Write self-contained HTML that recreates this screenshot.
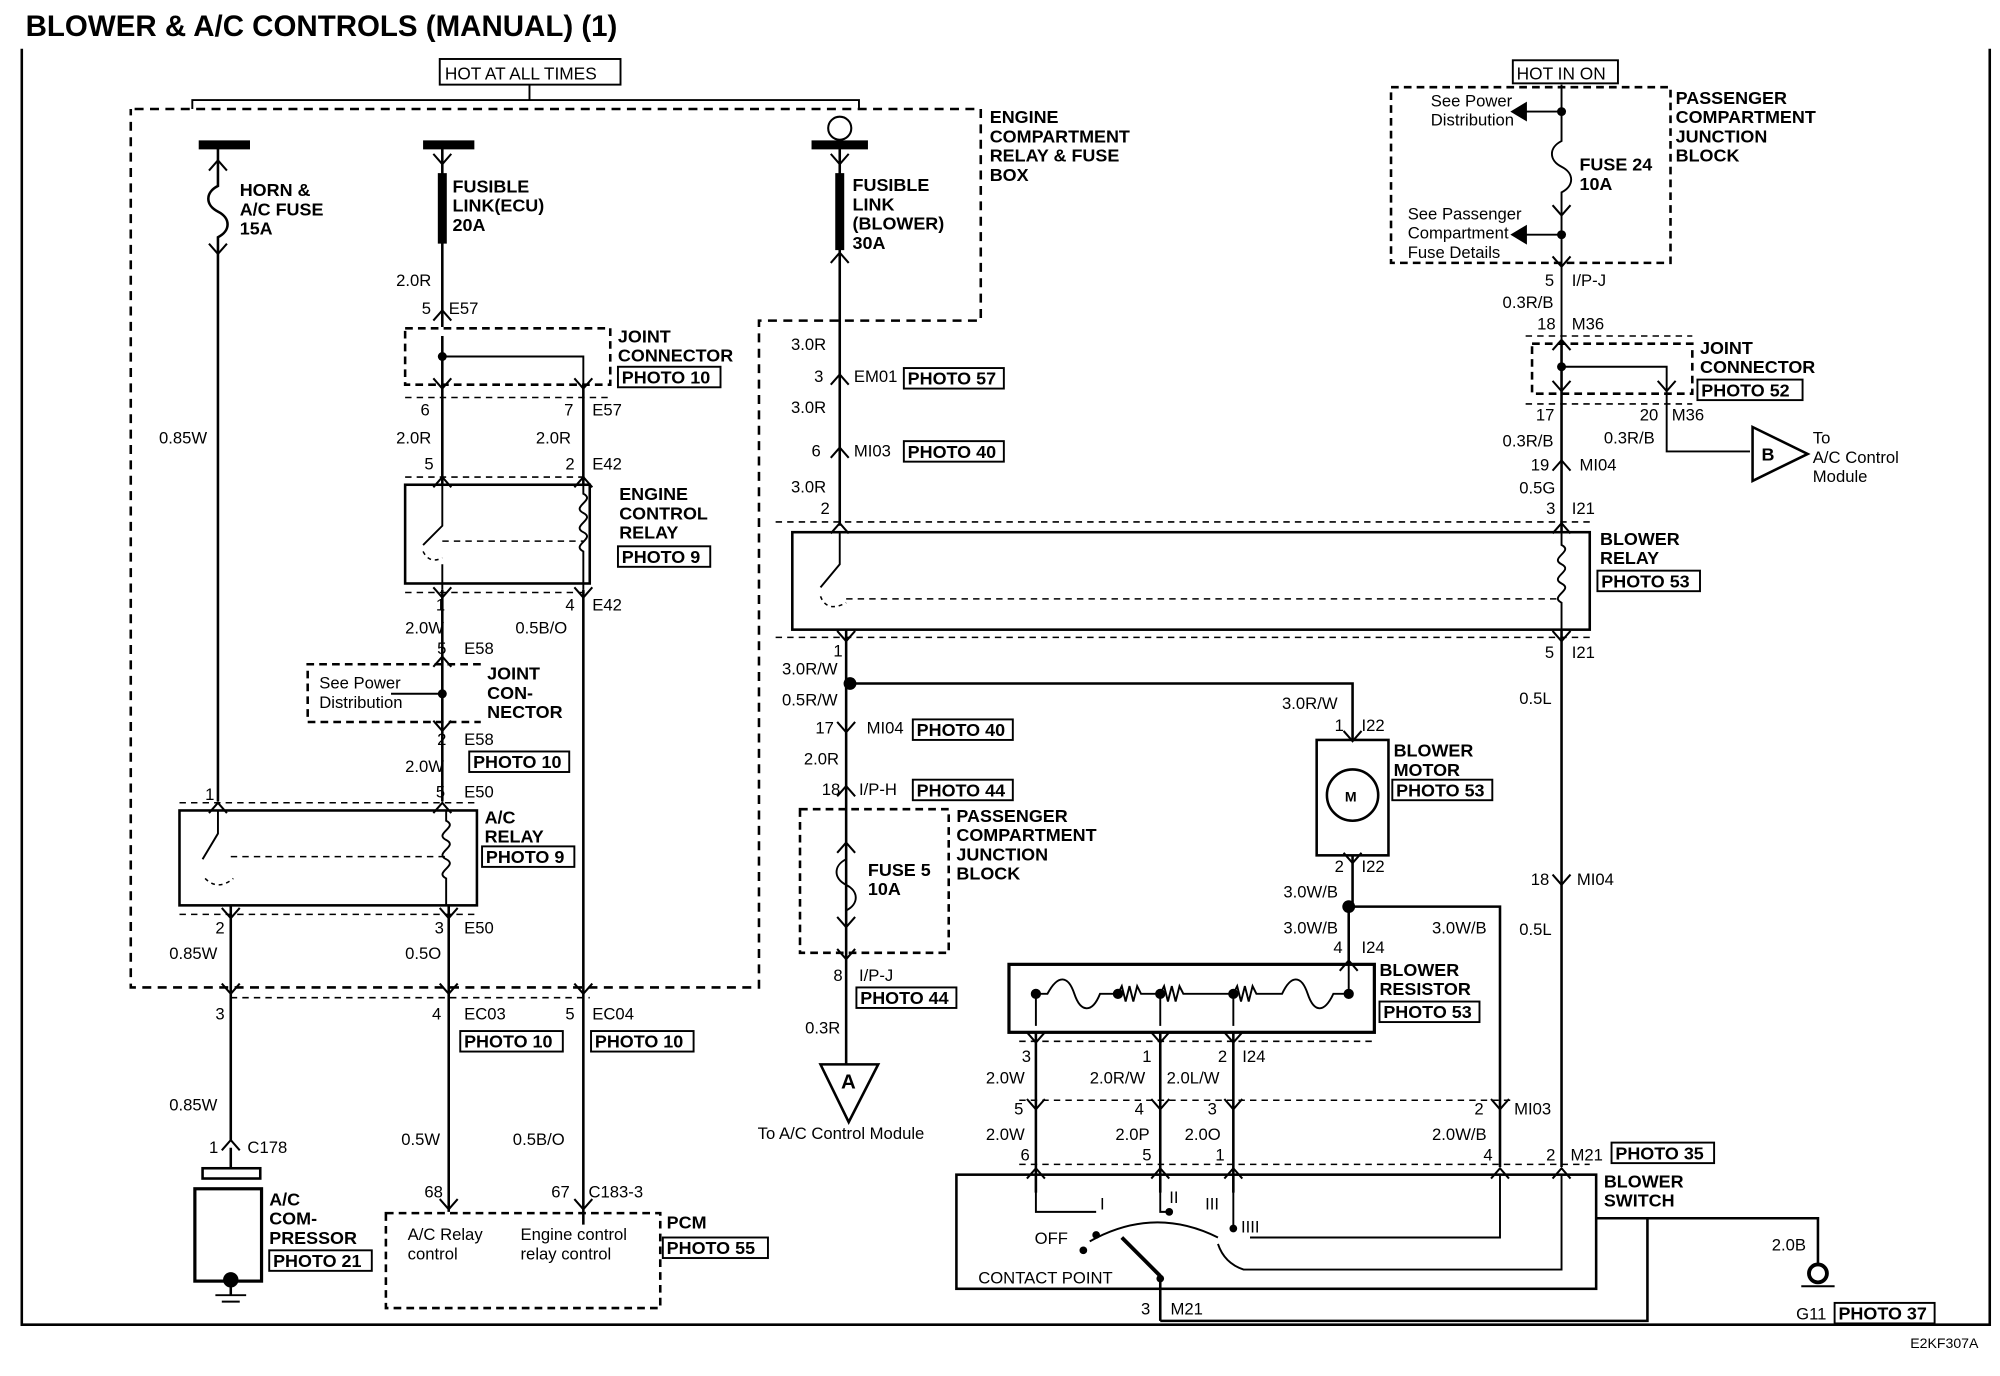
<!DOCTYPE html>
<html><head><meta charset="utf-8"><style>
html,body{margin:0;padding:0;background:#fff;}
svg{display:block;}
text{font-family:"Liberation Sans",Arial,sans-serif;fill:#000;}
.b{font-weight:bold;font-size:14px;}
.r{font-size:13px;}
.t{font-size:13.5px;}
</style></head><body>
<svg width="2000" height="1376" viewBox="0 0 1560 1073" preserveAspectRatio="none" xmlns="http://www.w3.org/2000/svg">
<defs>
<g id="dn"><polyline points="-7,-5 0,3 7,-5" fill="none" stroke="#000" stroke-width="1.6"/></g>
<g id="up"><polyline points="-7,5 0,-3 7,5" fill="none" stroke="#000" stroke-width="1.6"/></g>
</defs>
<g stroke="#000" fill="none" stroke-width="2">
<!-- outer frame -->
<polyline points="17,38 17,1033 1552,1033 1552,38"/>
<!-- hot bracket -->
<polyline points="150,85 150,78 670,78 670,85" stroke-width="1.5"/>
<line x1="413" y1="66" x2="413" y2="78" stroke-width="1.5"/>
<!-- engine compartment dashed -->
<polyline stroke-dasharray="7,5" points="105,85 765,85 765,250 592,250 592,770 102,770 102,85"/>
<!-- fuse bars -->
<line x1="155" y1="113" x2="195" y2="113" stroke-width="7"/>
<line x1="330" y1="113" x2="370" y2="113" stroke-width="7"/>
<line x1="633" y1="113" x2="677" y2="113" stroke-width="7"/>
<circle cx="655" cy="100" r="9" stroke-width="1.6"/>
<!-- left wire -->
<path d="M170,116 V145 C160,150 160,160 170,165 C180,170 180,180 170,185 V625"/>
<!-- ecu fusible link -->
<line x1="345" y1="116" x2="345" y2="255"/>
<line x1="345" y1="135" x2="345" y2="190" stroke-width="7"/>
<!-- blower fusible link -->
<line x1="655" y1="116" x2="655" y2="410"/>
<line x1="655" y1="135" x2="655" y2="195" stroke-width="7"/>
<!-- joint connector 1 -->
<rect x="316" y="256" width="160" height="44" stroke-dasharray="6,4"/>
<polyline points="345,262 345,300"/>
<polyline points="345,278 455,278 455,300" stroke-width="1.5"/>
<line x1="345" y1="300" x2="345" y2="378"/><line x1="455" y1="300" x2="455" y2="378"/>
<line x1="316" y1="310" x2="476" y2="310" stroke-dasharray="5,4" stroke-width="1.2"/>
<!-- engine control relay -->
<rect x="316" y="378" width="144" height="77"/>
<line x1="316" y1="372" x2="460" y2="372" stroke-dasharray="5,4" stroke-width="1.2"/>
<path d="M345,378 V410 L330,425 M345,440 V460" stroke-width="1.5"/>
<path d="M330,430 Q335,440 345,435" stroke-dasharray="3,3" stroke-width="1.2"/>
<path d="M455,378 V385 C465,390 445,395 455,400 C465,405 445,410 455,415 C465,420 445,425 455,430 V460" stroke-width="1.5"/>
<line x1="345" y1="422" x2="455" y2="422" stroke-dasharray="5,4" stroke-width="1.2"/>
<line x1="316" y1="462" x2="460" y2="462" stroke-dasharray="5,4" stroke-width="1.2"/>
<line x1="345" y1="460" x2="345" y2="625"/>
<line x1="455" y1="460" x2="455" y2="955"/>
<!-- joint connector 2 -->
<polyline stroke-dasharray="6,4" points="375,518 240,518 240,563 375,563"/>
<line x1="345" y1="541" x2="305" y2="541" stroke-width="1.5"/>
<!-- A/C relay -->
<rect x="140" y="632" width="232" height="74"/>
<line x1="140" y1="626" x2="372" y2="626" stroke-dasharray="5,4" stroke-width="1.2"/>
<line x1="140" y1="713" x2="372" y2="713" stroke-dasharray="5,4" stroke-width="1.2"/>
<path d="M170,632 V650 L158,670" stroke-width="1.5"/>
<path d="M160,685 Q170,695 182,685" stroke-dasharray="3,3" stroke-width="1.2"/>
<path d="M348,632 V640 C358,645 338,650 348,655 C358,660 338,665 348,670 C358,675 338,680 348,685 V706" stroke-width="1.5"/>
<line x1="180" y1="668" x2="348" y2="668" stroke-dasharray="5,4" stroke-width="1.2"/>
<line x1="180" y1="706" x2="180" y2="890"/>
<line x1="350" y1="706" x2="350" y2="945"/>
<line x1="180" y1="778" x2="460" y2="778" stroke-dasharray="5,4" stroke-width="1.2"/>
<!-- compressor -->
<rect x="158" y="911" width="45" height="8"/>
<rect x="152" y="927" width="52" height="72" stroke-width="2.5"/>
<line x1="180" y1="895" x2="180" y2="911"/>
<line x1="180" y1="999" x2="180" y2="1010"/>
<line x1="168" y1="1010" x2="192" y2="1010" stroke-width="1.5"/><line x1="173" y1="1015" x2="187" y2="1015" stroke-width="1.5"/>
<!-- PCM -->
<rect x="301" y="946" width="214" height="74" stroke-dasharray="6,4"/>
<!-- right center -->
<line x1="605" y1="407" x2="1240" y2="407" stroke-dasharray="5,4" stroke-width="1.2"/>
<rect x="618" y="415" width="622" height="76"/>
<line x1="605" y1="497" x2="1240" y2="497" stroke-dasharray="5,4" stroke-width="1.2"/>
<path d="M655,415 V440 L640,458" stroke-width="1.5"/>
<path d="M640,465 Q645,478 660,470" stroke-dasharray="3,3" stroke-width="1.2"/>
<line x1="660" y1="467" x2="1218" y2="467" stroke-dasharray="5,4" stroke-width="1.2"/>
<path d="M1218,415 V425 C1228,430 1208,435 1218,440 C1228,445 1208,450 1218,455 C1228,460 1208,465 1218,470 V491" stroke-width="1.5"/>
<line x1="660" y1="491" x2="660" y2="830"/>
<polyline points="663,533 1055,533 1055,577"/>
<rect x="1027" y="577" width="56" height="90" stroke-width="2"/>
<circle cx="1055" cy="620" r="20"/>
<line x1="1055" y1="667" x2="1055" y2="707"/>
<polyline points="1052,707 1170,707 1170,910"/>
<line x1="1052" y1="707" x2="1052" y2="752"/>
<line x1="1218" y1="491" x2="1218" y2="910"/>
<!-- fuse 5 box -->
<rect x="624" y="631" width="116" height="112" stroke-dasharray="6,4"/>
<path d="M660,660 V670 C650,675 650,685 660,690 C670,695 670,705 660,710 V740" stroke-width="1.5"/>
<polygon points="640,830 685,830 662,875" stroke-width="2"/>
<!-- resistor -->
<rect x="787" y="752" width="285" height="53" stroke-width="2.5"/>
<path d="M808,800 V775 H817 C825,760 833,760 838,775 C843,790 852,790 858,775 H872 l3,-6 3,12 3,-12 3,12 3,-12 3,6 H905 l3,-6 3,12 3,-12 3,12 3,-12 3,6 H962 l3,-6 3,12 3,-12 3,12 3,-12 3,6 H1000 C1007,760 1015,760 1020,775 C1025,790 1033,790 1040,775 H1052 V752" stroke-width="1.5"/>
<line x1="905" y1="775" x2="905" y2="800" stroke-width="1.5"/>
<line x1="962" y1="775" x2="962" y2="800" stroke-width="1.5"/>
<line x1="795" y1="812" x2="1070" y2="812" stroke-dasharray="5,4" stroke-width="1.2"/>
<line x1="808" y1="805" x2="808" y2="930"/><line x1="905" y1="805" x2="905" y2="930"/><line x1="962" y1="805" x2="962" y2="930"/>
<line x1="795" y1="858" x2="1180" y2="858" stroke-dasharray="5,4" stroke-width="1.2"/>
<line x1="795" y1="908" x2="1240" y2="908" stroke-dasharray="5,4" stroke-width="1.2"/>
<!-- switch -->
<rect x="746" y="916" width="499" height="89" stroke-width="2"/>
<path d="M808,916 V945 H855 M905,916 V945 H912 M962,916 V958 M1170,916 V965 H975 M1218,916 V990 H970 Q955,985 950,970 M850,968 Q900,940 950,965" stroke-width="1.5"/>
<line x1="875" y1="965" x2="905" y2="995" stroke-width="3"/>
<line x1="905" y1="995" x2="905" y2="1030"/>
<polyline points="905,1030 1285,1030 1285,950 1418,950 1418,985"/>
<line x1="1245" y1="950" x2="1285" y2="950"/>
<!-- ground g11 -->
<circle cx="1418" cy="993" r="7" stroke-width="3"/>
<line x1="1405" y1="1003" x2="1431" y2="1003" stroke-width="1.5"/>
<!-- right top -->
<rect x="1085" y="68" width="218" height="137" stroke-dasharray="6,4"/>
<path d="M1218,66 V110 C1208,115 1208,125 1218,130 C1228,135 1228,145 1218,150 V268" stroke-width="1.5"/>
<line x1="1190" y1="87" x2="1218" y2="87" stroke-width="1.5"/><polygon points="1190,81 1190,93 1180,87" fill="#000"/>
<line x1="1190" y1="183" x2="1218" y2="183" stroke-width="1.5"/><polygon points="1190,177 1190,189 1180,183" fill="#000"/>
<line x1="1190" y1="262" x2="1320" y2="262" stroke-dasharray="5,4" stroke-width="1.2"/>
<rect x="1195" y="268" width="125" height="39" stroke-dasharray="6,4"/>
<polyline points="1218,268 1218,415"/>
<polyline points="1218,286 1300,286 1300,352 1365,352" stroke-width="1.5"/>
<line x1="1190" y1="315" x2="1320" y2="315" stroke-dasharray="5,4" stroke-width="1.2"/>
<polygon points="1367,333 1367,375 1410,354"/>
</g>
<!-- dots -->
<g fill="#000">
<circle cx="345" cy="278" r="3.5"/><circle cx="345" cy="541" r="3.5"/><circle cx="663" cy="533" r="5"/><circle cx="1052" cy="707" r="5"/>
<circle cx="1218" cy="87" r="3.5"/><circle cx="1218" cy="183" r="3.5"/><circle cx="1218" cy="286" r="3.5"/>
<circle cx="808" cy="775" r="4"/><circle cx="872" cy="775" r="4"/><circle cx="905" cy="775" r="4"/><circle cx="962" cy="775" r="4"/><circle cx="1052" cy="775" r="4"/>
<circle cx="855" cy="963" r="3"/><circle cx="845" cy="975" r="3"/><circle cx="912" cy="945" r="3"/><circle cx="962" cy="958" r="3"/><circle cx="905" cy="997" r="3"/>
<circle cx="180" cy="998" r="6"/>
</g>
<!-- chevrons -->
<g>
<use href="#up" x="170" y="128"/><use href="#dn" x="170" y="195"/>
<use href="#dn" x="345" y="125"/><use href="#up" x="345" y="245"/><use href="#dn" x="345" y="300"/><use href="#dn" x="455" y="300"/>
<use href="#up" x="345" y="375"/><use href="#up" x="455" y="375"/><use href="#dn" x="345" y="463"/><use href="#dn" x="455" y="463"/>
<use href="#up" x="345" y="515"/><use href="#dn" x="345" y="567"/><use href="#up" x="170" y="629"/><use href="#up" x="345" y="629"/>
<use href="#dn" x="180" y="713"/><use href="#dn" x="350" y="713"/><use href="#dn" x="180" y="772"/><use href="#dn" x="350" y="772"/><use href="#dn" x="455" y="772"/>
<use href="#up" x="180" y="892"/><use href="#dn" x="350" y="940"/><use href="#dn" x="455" y="940"/>
<use href="#dn" x="655" y="125"/><use href="#up" x="655" y="200"/><use href="#up" x="655" y="295"/><use href="#up" x="655" y="352"/><use href="#up" x="655" y="411"/>
<use href="#dn" x="660" y="497"/><use href="#dn" x="660" y="568"/><use href="#up" x="660" y="616"/><use href="#up" x="660" y="660"/><use href="#dn" x="660" y="720"/><use href="#dn" x="660" y="745"/>
<use href="#dn" x="1055" y="575"/><use href="#dn" x="1055" y="670"/><use href="#up" x="1052" y="752"/>
<use href="#dn" x="808" y="810"/><use href="#dn" x="905" y="810"/><use href="#dn" x="962" y="810"/>
<use href="#dn" x="808" y="862"/><use href="#dn" x="905" y="862"/><use href="#dn" x="962" y="862"/><use href="#dn" x="1170" y="862"/>
<use href="#up" x="808" y="914"/><use href="#up" x="905" y="914"/><use href="#up" x="962" y="914"/><use href="#up" x="1170" y="914"/><use href="#up" x="1218" y="914"/>
<use href="#dn" x="1218" y="165"/><use href="#dn" x="1218" y="205"/><use href="#up" x="1218" y="268"/><use href="#dn" x="1218" y="302"/><use href="#dn" x="1300" y="302"/>
<use href="#up" x="1218" y="362"/><use href="#up" x="1218" y="411"/><use href="#dn" x="1218" y="497"/><use href="#dn" x="1218" y="687"/>
</g>
<!-- boxes around photo labels -->
<g fill="none" stroke="#000" stroke-width="1.5">
<rect x="343" y="46" width="141" height="20"/><rect x="1180" y="47" width="82" height="18"/>
<rect x="482" y="286" width="80" height="16"/><rect x="482" y="426" width="72" height="16"/><rect x="366" y="586" width="78" height="16"/>
<rect x="376" y="660" width="72" height="16"/><rect x="359" y="804" width="80" height="16"/><rect x="461" y="804" width="80" height="16"/>
<rect x="210" y="975" width="80" height="16"/><rect x="517" y="965" width="82" height="16"/>
<rect x="705" y="287" width="78" height="16"/><rect x="705" y="344" width="78" height="16"/><rect x="712" y="561" width="78" height="16"/>
<rect x="712" y="608" width="78" height="16"/><rect x="668" y="770" width="78" height="16"/><rect x="1086" y="608" width="78" height="16"/>
<rect x="1076" y="781" width="78" height="16"/><rect x="1246" y="445" width="80" height="16"/><rect x="1324" y="296" width="82" height="16"/>
<rect x="1257" y="891" width="80" height="16"/><rect x="1431" y="1016" width="78" height="16"/>
</g>
<text x="20" y="28" style="font-weight:bold;font-size:23px">BLOWER &amp; A/C CONTROLS (MANUAL) (1)</text>
<text x="1490" y="1051" class="r" style="font-size:11px">E2KF307A</text>
<text x="347" y="62" class="t">HOT AT ALL TIMES</text>
<text x="1183" y="62" class="t">HOT IN ON</text>
<g class="b">
<text x="772" y="96">ENGINE</text><text x="772" y="111">COMPARTMENT</text><text x="772" y="126">RELAY &amp; FUSE</text><text x="772" y="141">BOX</text>
<text x="187" y="153">HORN &amp;</text><text x="187" y="168">A/C FUSE</text><text x="187" y="183">15A</text>
<text x="353" y="150">FUSIBLE</text><text x="353" y="165">LINK(ECU)</text><text x="353" y="180">20A</text>
<text x="665" y="149">FUSIBLE</text><text x="665" y="164">LINK</text><text x="665" y="179">(BLOWER)</text><text x="665" y="194">30A</text>
<text x="482" y="267">JOINT</text><text x="482" y="282">CONNECTOR</text><text x="485" y="299">PHOTO 10</text>
<text x="483" y="390">ENGINE</text><text x="483" y="405">CONTROL</text><text x="483" y="420">RELAY</text><text x="485" y="439">PHOTO 9</text>
<text x="380" y="530">JOINT</text><text x="380" y="545">CON-</text><text x="380" y="560">NECTOR</text><text x="369" y="599">PHOTO 10</text>
<text x="378" y="642">A/C</text><text x="378" y="657">RELAY</text><text x="379" y="673">PHOTO 9</text>
<text x="362" y="817">PHOTO 10</text><text x="464" y="817">PHOTO 10</text>
<text x="210" y="940">A/C</text><text x="210" y="955">COM-</text><text x="210" y="970">PRESSOR</text><text x="213" y="988">PHOTO 21</text>
<text x="520" y="958">PCM</text><text x="520" y="978">PHOTO 55</text>
<text x="708" y="300">PHOTO 57</text><text x="708" y="357">PHOTO 40</text><text x="715" y="574">PHOTO 40</text><text x="715" y="621">PHOTO 44</text>
<text x="746" y="641">PASSENGER</text><text x="746" y="656">COMPARTMENT</text><text x="746" y="671">JUNCTION</text><text x="746" y="686">BLOCK</text>
<text x="677" y="683">FUSE 5</text><text x="677" y="698">10A</text><text x="671" y="783">PHOTO 44</text>
<text x="1087" y="590">BLOWER</text><text x="1087" y="605">MOTOR</text><text x="1089" y="621">PHOTO 53</text>
<text x="1076" y="761">BLOWER</text><text x="1076" y="776">RESISTOR</text><text x="1079" y="794">PHOTO 53</text>
<text x="1248" y="425">BLOWER</text><text x="1248" y="440">RELAY</text><text x="1249" y="458">PHOTO 53</text>
<text x="1307" y="81">PASSENGER</text><text x="1307" y="96">COMPARTMENT</text><text x="1307" y="111">JUNCTION</text><text x="1307" y="126">BLOCK</text>
<text x="1232" y="133">FUSE 24</text><text x="1232" y="148">10A</text>
<text x="1326" y="276">JOINT</text><text x="1326" y="291">CONNECTOR</text><text x="1327" y="309">PHOTO 52</text>
<text x="1251" y="926">BLOWER</text><text x="1251" y="941">SWITCH</text><text x="1260" y="904">PHOTO 35</text>
<text x="1434" y="1029">PHOTO 37</text>
<text x="1374" y="359">B</text><text x="656" y="849" style="font-size:16px">A</text><text x="1049" y="625" style="font-size:11px">M</text>
</g>
<g class="r">
<text x="1116" y="83">See Power</text><text x="1116" y="98">Distribution</text>
<text x="1098" y="171">See Passenger</text><text x="1098" y="186">Compartment</text><text x="1098" y="201">Fuse Details</text>
<text x="249" y="537">See Power</text><text x="249" y="552">Distribution</text>
<text x="1414" y="346">To</text><text x="1414" y="361">A/C Control</text><text x="1414" y="376">Module</text>
<text x="591" y="888">To A/C Control Module</text>
<text x="318" y="967">A/C Relay</text><text x="318" y="982">control</text><text x="406" y="967">Engine control</text><text x="406" y="982">relay control</text>
<text x="807" y="970">OFF</text><text x="763" y="1001">CONTACT POINT</text>
<text x="858" y="943">I</text><text x="912" y="938">II</text><text x="940" y="943">III</text><text x="968" y="961">IIII</text>
<text x="124" y="346">0.85W</text>
<text x="309" y="223">2.0R</text><text x="329" y="245">5</text><text x="350" y="245">E57</text>
<text x="328" y="324">6</text><text x="440" y="324">7</text><text x="462" y="324">E57</text>
<text x="309" y="346">2.0R</text><text x="418" y="346">2.0R</text>
<text x="331" y="366">5</text><text x="441" y="366">2</text><text x="462" y="366">E42</text>
<text x="340" y="476">1</text><text x="441" y="476">4</text><text x="462" y="476">E42</text>
<text x="316" y="494">2.0W</text><text x="402" y="494">0.5B/O</text>
<text x="341" y="510">5</text><text x="362" y="510">E58</text>
<text x="341" y="581">2</text><text x="362" y="581">E58</text>
<text x="316" y="602">2.0W</text><text x="340" y="622">5</text><text x="362" y="622">E50</text>
<text x="160" y="624">1</text>
<text x="168" y="728">2</text><text x="339" y="728">3</text><text x="362" y="728">E50</text>
<text x="132" y="748">0.85W</text><text x="316" y="748">0.5O</text>
<text x="168" y="795">3</text><text x="337" y="795">4</text><text x="362" y="795">EC03</text><text x="441" y="795">5</text><text x="462" y="795">EC04</text>
<text x="132" y="866">0.85W</text><text x="313" y="893">0.5W</text><text x="400" y="893">0.5B/O</text>
<text x="163" y="899">1</text><text x="193" y="899">C178</text>
<text x="331" y="934">68</text><text x="430" y="934">67</text><text x="459" y="934">C183-3</text>
<text x="617" y="273">3.0R</text><text x="635" y="298">3</text><text x="666" y="298">EM01</text>
<text x="617" y="322">3.0R</text><text x="633" y="356">6</text><text x="666" y="356">MI03</text>
<text x="617" y="384">3.0R</text><text x="640" y="401">2</text>
<text x="650" y="512">1</text><text x="610" y="526">3.0R/W</text><text x="610" y="550">0.5R/W</text>
<text x="636" y="572">17</text><text x="676" y="572">MI04</text>
<text x="627" y="596">2.0R</text><text x="641" y="620">18</text><text x="670" y="620">I/P-H</text>
<text x="650" y="765">8</text><text x="670" y="765">I/P-J</text><text x="628" y="806">0.3R</text>
<text x="1000" y="553">3.0R/W</text><text x="1041" y="570">1</text><text x="1062" y="570">I22</text>
<text x="1041" y="680">2</text><text x="1062" y="680">I22</text>
<text x="1001" y="700">3.0W/B</text><text x="1001" y="728">3.0W/B</text><text x="1117" y="728">3.0W/B</text>
<text x="1040" y="743">4</text><text x="1062" y="743">I24</text>
<text x="797" y="828">3</text><text x="891" y="828">1</text><text x="950" y="828">2</text><text x="969" y="828">I24</text>
<text x="769" y="845">2.0W</text><text x="850" y="845">2.0R/W</text><text x="910" y="845">2.0L/W</text>
<text x="791" y="869">5</text><text x="885" y="869">4</text><text x="942" y="869">3</text><text x="1150" y="869">2</text><text x="1181" y="869">MI03</text>
<text x="769" y="889">2.0W</text><text x="870" y="889">2.0P</text><text x="924" y="889">2.0O</text><text x="1117" y="889">2.0W/B</text>
<text x="796" y="905">6</text><text x="891" y="905">5</text><text x="948" y="905">1</text><text x="1157" y="905">4</text><text x="1206" y="905">2</text><text x="1225" y="905">M21</text>
<text x="890" y="1025">3</text><text x="913" y="1025">M21</text>
<text x="1382" y="975">2.0B</text><text x="1401" y="1029">G11</text>
<text x="1205" y="223">5</text><text x="1226" y="223">I/P-J</text><text x="1172" y="240">0.3R/B</text>
<text x="1199" y="257">18</text><text x="1226" y="257">M36</text>
<text x="1198" y="328">17</text><text x="1279" y="328">20</text><text x="1304" y="328">M36</text>
<text x="1172" y="348">0.3R/B</text><text x="1251" y="346">0.3R/B</text>
<text x="1194" y="367">19</text><text x="1232" y="367">MI04</text>
<text x="1185" y="385">0.5G</text><text x="1206" y="401">3</text><text x="1226" y="401">I21</text>
<text x="1205" y="513">5</text><text x="1226" y="513">I21</text>
<text x="1185" y="549">0.5L</text>
<text x="1194" y="690">18</text><text x="1230" y="690">MI04</text>
<text x="1185" y="729">0.5L</text>
</g>
</svg>
</body></html>
